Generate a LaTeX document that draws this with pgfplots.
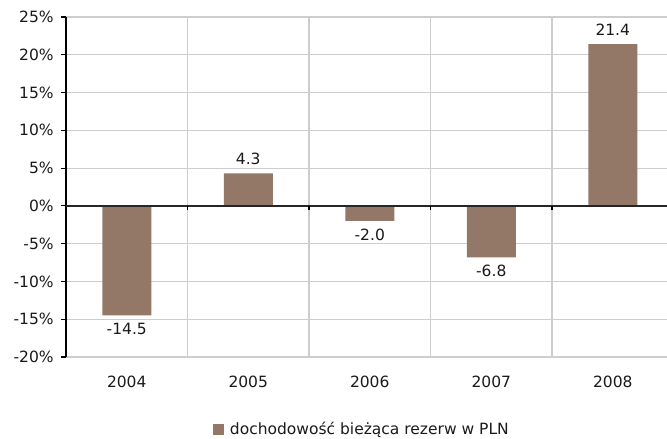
\documentclass[border=0pt]{standalone}
\usepackage{pgfplots}
\pgfplotsset{compat=1.18}
\usepackage{fontspec}
\setmainfont{DejaVu Sans}
\definecolor{barbrown}{HTML}{937868}
\definecolor{gridgray}{HTML}{CDCDCD}
\definecolor{txt}{HTML}{1A1A1A}
\newcommand\chartfont{\fontsize{15.5bp}{18bp}\selectfont}
\begin{document}
\chartfont
\begin{tikzpicture}
\begin{axis}[
  name=ax, scale only axis, width=607.5bp, height=340bp,
  ymin=-20, ymax=25, ytick={-20,-15,...,25},
  xmin=-0.5, xmax=4.5, xtick={0,1,2,3,4},
  xticklabels={2004,2005,2006,2007,2008},
  /pgf/number format/assume math mode=true,
  yticklabel={\pgfmathprintnumber{\tick}\%},
  ybar, bar width=49bp,
  axis y line*=left, axis x line*=bottom,
  x axis line style={draw=none},
  y axis line style={black, line width=1.2bp},
  ymajorgrids, grid style={gridgray, line width=1.2bp},
  extra x ticks={0.5,1.5,2.5,3.5}, extra x tick labels={},
  extra x tick style={xmajorgrids=true},
  xtick style={draw=none},
  ytick style={black, line width=1.2bp},
  tick align=outside, major tick length=5bp,
  ticklabel style={font=\chartfont, text=txt},
  xticklabel style={yshift=-9bp},
  yticklabel style={xshift=-2bp},
  nodes near coords={\pgfmathprintnumber[fixed,fixed zerofill,precision=1]{\pgfplotspointmeta}},
  every node near coord/.append style={font=\chartfont, text=txt, inner sep=8bp},
  legend style={at={(0.487,-0.213)}, anchor=center, draw=none, fill=none,
    font=\chartfont, text=txt},
  legend image code/.code={\fill[barbrown] (0bp,-5.5bp) rectangle (11bp,5.5bp); \path (15bp,0bp);},
]
\addplot[fill=barbrown, draw=none] coordinates {(0,-14.5) (1,4.3) (2,-2.0) (3,-6.8) (4,21.4)};
\addlegendentry{dochodowość bieżąca rezerw w PLN}
\draw[black!85, line width=2bp] (axis cs:-0.5,0) -- (axis cs:4.5,0);
\pgfplotsinvokeforeach{0.5,1.5,2.5,3.5}{\draw[black, line width=1.5bp] (axis cs:#1,0) -- ([yshift=-4bp]axis cs:#1,0);}
\end{axis}
\pgfresetboundingbox
\path[use as bounding box] ([xshift=-66bp,yshift=-82bp]ax.south west) rectangle ([xshift=-6.5bp,yshift=17bp]ax.north east);
\end{tikzpicture}
\end{document}
